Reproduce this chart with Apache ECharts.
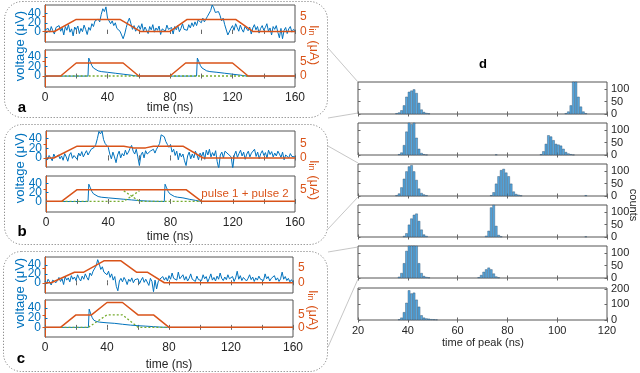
<!DOCTYPE html>
<html>
<head>
<meta charset="utf-8">
<script src="https://cdn.jsdelivr.net/npm/echarts@6.0.0/dist/echarts.min.js"></script>
<style>
  html, body { margin: 0; padding: 0; background: #fff; }
  #chart { width: 640px; height: 373px; }
</style>
</head>
<body>
<div id="chart"></div>
<script>
// ---- data ----
const sampleStepNs = 1
const timeTicks = [0, 20, 40, 60, 80, 100, 120, 140, 160]
const timeLabels = [0, 40, 80, 120, 160]
const peakTimeLabels = [20, 40, 60, 80, 100, 120]
const voltageTicks = [0, 20, 40]
const currentTicks = [0, 5]

// noisy measured voltage (uV), one sample per ns, 0..160 ns
const voltageA = [
  5, 2, 8, 0, 12, 3, -4, 10, 6, 14,
  2, 9, -6, 12, 4, 16, 0, 7, -8, 11,
  5, 13, -3, 8, 1, 15, 6, -5, 10, 4,
  18, 12, 24, 20, 28, 22, 38, 50, 44, 54,
  30, 26, 18, 24, 14, 20, 8, 12, 2, -6,
  -14, -4, 10, 22, 30, 18, 6, 14, 2, 8,
  14, 6, 18, 2, 11, 8, -3, 12, 5, 16,
  0, 9, 4, 13, -5, 7, 11, 2, 15, 6,
  3, 10, -4, 12, 5, 14, 1, 8, 18, 6,
  10, 4, 16, 9, 20, 12, 22, 14, 26, 24,
  20, 30, 22, 28, 34, 30, 46, 58, 52, 42,
  38, 44, 36, 24, 30, 16, 20, -6, -10, 8,
  14, 4, 18, 10, 2, 15, 6, 0, 12, 8,
  3, 11, -4, 9, 16, 5, 12, -2, 8, 14,
  4, 10, 18, 2, 9, -6, 12, 6, 14, 0,
  -12, 8, -14, 4, 10, -3, 7, 12, 0, 6, 3
]
const voltageB = [
  2, -4, 5, 0, -6, 8, 1, -3, 6, -2,
  4, -5, 9, 2, -7, 6, 11, -1, 5, 8,
  -3, 10, 4, 13, 2, 9, 15, 6, 12, 18,
  14, 22, 28, 40, 55, 50, 56, 38, 30, 34,
  22, 8, -2, 12, 2, -10, 6, 14, 0, 9,
  4, 16, 7, 12, 20, 26, 14, 8, 18, 2,
  -16, 6, 12, 0, 15, 8, 4, 14, 10, 18,
  10, 18, 24, 30, 48, 52, 44, 34, 28, 22,
  28, 12, 18, 5, 14, -4, 10, 2, 8, -6,
  -16, 4, 12, -2, 8, 0, 14, 6, -4, 10,
  3, 12, -3, 16, 6, 18, 2, 11, 4, 15,
  -8, -22, 6, 12, 0, 14, 18, 8, 10, 2,
  -22, 6, 14, 1, 9, 16, 4, 12, -3, 8,
  14, 2, 10, 6, 18, 3, 12, -2, 9, 15,
  5, 11, 0, 16, 7, 13, 2, 10, 4, 14,
  8, 1, 12, -4, 6, 10, 0, 9, 3, 7, 2
]
const voltageC = [
  4, -2, 8, 2, -5, 6, 10, 0, 5, 12,
  3, 9, -4, 14, 6, 11, 2, 16, 8, 13,
  5, 18, 10, 4, 15, 8, 20, 12, 6, 22,
  16, 26, 30, 38, 52, 42, 30, 36, 24, 28,
  18, 26, 12, 20, 6, 14, -8, -18, 4, 10,
  2, 12, 6, -4, 8, 3, 11, 0, 7, 5,
  9, -2, 6, 12, 1, 8, 4, -6, 10, 3,
  -20, 6, -14, 2, 8, 4, 14, 6, 12, 4,
  16, 8, 22, 10, 14, 6, 24, 9, 12, 18,
  6, 14, 4, 10, 20, 8, 12, 3, 15, 7,
  11, 5, 18, 9, 14, 2, 10, 20, 6, 12,
  4, 15, 8, 22, 10, 5, 13, 7, 18, 9,
  6, 14, 3, 11, 26, 8, 16, 5, 12, 9,
  4, 10, 18, 7, 13, 3, 11, 6, 15, 8,
  12, 5, 20, 9, 14, 4, 10, 7, 16, 6,
  11, 3, 9, 24, 8, 14, 5, 10, 2, 7, 0
]

// input current (uA) shown with the noisy traces, [time ns, current]
const currentTopA = [[0, 0], [6, 0], [20, 4], [48, 4], [61, 0], [80, 0], [91, 4], [122, 4], [133, 0], [160, 0]]
const currentTopB = [[0, 0], [5, 0], [20, 4.2], [50, 4.2], [56, 3.6], [64, 3.6], [69, 4.2], [88, 4.2], [101, 0], [160, 0]]
const currentTopC = [[0, 0], [4, 0], [19, 3.6], [25, 3.6], [38, 7.5], [49, 7.5], [59, 3.6], [66, 3.6], [77, 0], [160, 0]]

// simulated pulses: voltage (uV), total current and single-pulse current (uA)
const pulseVoltageA = [[0, 0], [27.5, 0], [28, 38], [29, 30], [30, 22], [31, 17], [32, 14], [34, 11], [36, 9.5], [40, 8], [45, 6], [50, 4], [55, 2], [58, 0.5], [60, 0],
  [97, 0], [97.5, 38], [98.5, 30], [99.5, 22], [100.5, 17], [101.5, 14], [103.5, 11], [105.5, 9.5], [110, 8], [115, 6], [120, 4], [125, 2], [128, 0.5], [130, 0], [160, 0]]
const pulseCurrentA = [[0, 0], [10, 0], [20, 4.5], [50, 4.5], [60, 0], [80, 0], [90, 4.5], [120, 4.5], [130, 0], [160, 0]]
const singleCurrentA = [[10, 0], [60, 0], [70, '-'], [80, 0], [130, 0]]

const pulseVoltageB = [[0, 0], [27, 0], [27.5, 38], [28.5, 30], [29.5, 22], [30.5, 17], [31.5, 14], [33.5, 11], [35.5, 9.5], [40, 8], [45, 6.5], [50, 5], [55, 3.5], [60, 2], [65, 1], [70, 0.5], [76, 0],
  [76.5, 38], [77.5, 30], [78.5, 22], [79.5, 17], [80.5, 14], [82.5, 11], [84.5, 9.5], [88, 8], [92, 5], [96, 2.5], [100, 0], [160, 0]]
const pulseCurrentB = [[0, 0], [10, 0], [20, 5], [90, 5], [100, 0], [160, 0]]
const singleCurrentB1 = [[10, 0], [50, 0], [60, 4.5]]
const singleCurrentB2 = [[50, 4.5], [60, 0], [100, 0]]

const pulseVoltageC = [[0, 0], [28, 0], [28.5, 38], [29.5, 28], [30.5, 20], [31.5, 15], [33, 12.5], [35, 11], [40, 9.5], [45, 8.4], [50, 6.5], [55, 4.8], [60, 3.5], [65, 2.6], [70, 1.5], [75, 0.5], [79, 0], [160, 0]]
const pulseCurrentC = [[0, 0], [10, 0], [20, 5], [30, 5], [40, 10], [50, 10], [60, 5], [70, 5], [80, 0], [160, 0]]
const singleCurrentC = [[10, 0], [28, 0], [40, 5], [50, 5], [60, 0], [80, 0]]

// histograms of time of peak: bin start (ns, 1 ns bins) and counts
const hist1Bins = [35, 36, 37, 38, 39, 40, 41, 42, 43, 44, 45, 46, 47, 48, 103, 104, 105, 106, 107, 108, 109, 110, 111]
const hist1Counts = [3, 6, 15, 35, 70, 90, 95, 100, 85, 45, 18, 8, 4, 2, 3, 10, 35, 135, 140, 70, 30, 10, 3]
const hist2Bins = [36, 37, 38, 39, 40, 41, 42, 43, 44, 45, 46, 47, 75, 93, 94, 95, 96, 97, 98, 99, 100, 101, 102, 103, 104, 105, 106]
const hist2Counts = [3, 10, 40, 95, 135, 125, 135, 70, 25, 8, 3, 1, 2, 3, 15, 45, 80, 75, 60, 45, 42, 38, 25, 12, 6, 3, 1]
const hist3Bins = [35, 36, 37, 38, 39, 40, 41, 42, 43, 44, 45, 46, 47, 73, 74, 75, 76, 77, 78, 79, 80, 81, 82, 83, 84, 85, 111]
const hist3Counts = [3, 10, 35, 70, 100, 120, 125, 100, 65, 30, 12, 6, 3, 3, 15, 50, 80, 105, 110, 95, 80, 50, 18, 8, 5, 2, 3]
const hist4Bins = [38, 39, 40, 41, 42, 43, 44, 45, 46, 47, 71, 72, 73, 74, 75, 76, 77, 111]
const hist4Counts = [4, 15, 50, 75, 90, 95, 65, 30, 10, 4, 5, 25, 120, 130, 45, 8, 2, 2]
const hist5Bins = [36, 37, 38, 39, 40, 41, 42, 43, 44, 45, 46, 47, 48, 68, 69, 70, 71, 72, 73, 74, 75, 76]
const hist5Counts = [5, 20, 60, 110, 140, 150, 145, 130, 60, 20, 8, 4, 2, 3, 12, 25, 35, 42, 35, 18, 6, 2]
const hist6Bins = [36, 37, 38, 39, 40, 41, 42, 43, 44, 45, 46, 47, 48, 49, 50, 51]
const hist6Counts = [4, 15, 50, 110, 190, 170, 175, 130, 85, 30, 15, 10, 8, 5, 4, 3]

// ---- drawing ----
const FONT = '"Liberation Sans", Arial, Helvetica, sans-serif'
const BLUE = '#0072BD'
const ORANGE = '#D95319'
const GREEN = '#77AC30'
const AXIS = '#262626'
const TICK = '#666'
const BAR = '#56A8E0'

const grid = []
const xAxis = []
const yAxis = []
const series = []

const toTrace = (vals) => vals.map((v, i) => [i * sampleStepNs, v])

function tick(values, color) {
  return { show: true, inside: true, length: 2.5, customValues: values, lineStyle: { color: color, width: 1 } }
}

function labels(values, color, size, margin, show) {
  return {
    show: show !== false, customValues: values, margin: margin, color: color,
    fontSize: size, fontFamily: FONT, hideOverlap: false,
  }
}

function addBox(box) {
  grid.push({ left: box.left, top: box.top, width: box.width, height: box.height, show: true, borderColor: '#555', borderWidth: 1 })
  return grid.length - 1
}

function addSubplot(p) {
  const gi = addBox(p)
  const xi = xAxis.length
  xAxis.push({
    type: 'value', gridIndex: gi, position: 'bottom', min: 0, max: 160,
    axisLine: { show: false }, splitLine: { show: false },
    axisTick: tick(timeTicks, TICK),
    axisLabel: labels(timeLabels, AXIS, 12, 5, !!p.showX),
  })
  xAxis.push({
    type: 'value', gridIndex: gi, position: 'top', min: 0, max: 160,
    axisLine: { show: false }, splitLine: { show: false },
    axisTick: tick(timeTicks, TICK), axisLabel: { show: false },
  })
  const yi = yAxis.length
  // outer voltage labels (0 and 40) on the main left axis
  yAxis.push({
    type: 'value', gridIndex: gi, position: 'left', min: p.vRange[0], max: p.vRange[1],
    axisLine: { show: true, lineStyle: { color: BLUE } }, splitLine: { show: false },
    axisTick: tick(voltageTicks, BLUE),
    axisLabel: labels([voltageTicks[0], voltageTicks[2]], BLUE, 12, 4),
  })
  yAxis.push({
    type: 'value', gridIndex: gi, position: 'right', min: p.iRange[0], max: p.iRange[1],
    axisLine: { show: true, lineStyle: { color: ORANGE } }, splitLine: { show: false },
    axisTick: tick(currentTicks, ORANGE),
    axisLabel: labels(currentTicks, ORANGE, 12, 5),
  })
  // middle voltage label on a twin axis so it is not culled as an overlap
  yAxis.push({
    type: 'value', gridIndex: gi, position: 'left', offset: 0, min: p.vRange[0], max: p.vRange[1],
    axisLine: { show: false }, axisTick: { show: false }, splitLine: { show: false },
    axisLabel: labels([voltageTicks[1]], BLUE, 12, 4),
  })
  const line = (data, axisIdx, color, width, dash) => ({
    type: 'line', xAxisIndex: xi, yAxisIndex: axisIdx, data: data,
    showSymbol: false, symbol: 'none', silent: true, connectNulls: false,
    lineStyle: { color: color, width: width, type: dash || 'solid' }, itemStyle: { color: color },
  })
  series.push(line(p.voltage, yi, BLUE, 1))
  ;(p.single || []).forEach((d) => series.push(line(d, yi + 1, GREEN, 1.3, [2, 2])))
  series.push(line(p.current, yi + 1, ORANGE, 1.5))
}

const L = 45
const W = 250
addSubplot({ left: L, top: 5, width: W, height: 37, vRange: [-21, 58], iRange: [-3.5, 8.8], voltage: toTrace(voltageA), current: currentTopA })
addSubplot({ left: L, top: 50, width: W, height: 37, vRange: [-23, 55], iRange: [-3.8, 9], voltage: pulseVoltageA, current: pulseCurrentA, single: [singleCurrentA], showX: true })
addSubplot({ left: L + 1, top: 131, width: W - 1, height: 36, vRange: [-19, 56], iRange: [-3.2, 9.6], voltage: toTrace(voltageB), current: currentTopB })
addSubplot({ left: L + 1, top: 176, width: W - 1, height: 36, vRange: [-23, 56], iRange: [-4.6, 10.9], voltage: pulseVoltageB, current: pulseCurrentB, single: [singleCurrentB1, singleCurrentB2], showX: true })
addSubplot({ left: L, top: 257, width: W - 2, height: 36, vRange: [-23, 58], iRange: [-3.5, 8.8], voltage: toTrace(voltageC), current: currentTopC })
addSubplot({ left: L, top: 300, width: W - 2, height: 37, vRange: [-20, 57], iRange: [-3.9, 11], voltage: pulseVoltageC, current: pulseCurrentC, single: [singleCurrentC], showX: true })

function addHist(h) {
  const gi = addBox(h)
  const xi = xAxis.length
  const xBase = {
    type: 'value', gridIndex: gi, min: 20, max: 120,
    axisLine: { show: false }, splitLine: { show: false },
    axisTick: tick(peakTimeLabels, TICK),
  }
  xAxis.push(Object.assign({}, xBase, {
    position: 'bottom',
    axisLabel: labels(peakTimeLabels, AXIS, 11, 5, !!h.showX),
  }))
  xAxis.push(Object.assign({}, xBase, { position: 'top', axisLabel: { show: false } }))
  const yi = yAxis.length
  const yBase = {
    type: 'value', gridIndex: gi, min: 0, max: h.max,
    axisLine: { show: false }, splitLine: { show: false },
    axisTick: tick(h.ticks, TICK),
  }
  yAxis.push(Object.assign({}, yBase, {
    position: 'right',
    axisLabel: labels(h.ticks, AXIS, 11, 4),
  }))
  yAxis.push(Object.assign({}, yBase, { position: 'left', axisLabel: { show: false } }))
  series.push({
    type: 'bar', xAxisIndex: xi, yAxisIndex: yi, silent: true, clip: true,
    barWidth: h.width / 100,
    data: h.bins.map((b, i) => [b + 0.5, h.counts[i]]),
    itemStyle: { color: BAR, borderColor: '#2a4a66', borderWidth: 0.4 },
  })
}

const HL = 358
const HW = 249
const histTops = [82, 123, 164, 205, 246, 288]
const histData = [
  [hist1Bins, hist1Counts], [hist2Bins, hist2Counts], [hist3Bins, hist3Counts],
  [hist4Bins, hist4Counts], [hist5Bins, hist5Counts], [hist6Bins, hist6Counts],
]
histData.forEach((d, i) => {
  const last = i === histData.length - 1
  addHist({
    left: HL, top: histTops[i], width: HW, height: 32,
    bins: d[0], counts: d[1],
    max: last ? 205 : 130, ticks: last ? [0, 100, 200] : [0, 50, 100],
    showX: last,
  })
})

// ---- annotations ----
function text(x, y, str, opts) {
  opts = opts || {}
  return {
    type: 'text', x: x, y: y, rotation: opts.rotation || 0, silent: true, z: 50,
    style: Object.assign({
      text: str, fill: opts.color || AXIS,
      font: (opts.weight || 'normal') + ' ' + (opts.size || 12) + 'px ' + FONT,
      align: 'center', verticalAlign: 'middle', textAlign: 'center', textVerticalAlign: 'middle',
    }, opts.style || {}),
  }
}

function currentLabel(x, y) {
  return text(x, y, '{a|I}{b|in}{a| (μA)}', {
    rotation: -Math.PI / 2,
    style: {
      rich: {
        a: { fontSize: 13, fontFamily: FONT, fill: ORANGE, color: ORANGE },
        b: { fontSize: 9, fontFamily: FONT, fill: ORANGE, color: ORANGE, verticalAlign: 'bottom', padding: [6, 1, 0, 0] },
      },
    },
  })
}

function panelBox(x, y, w, h) {
  return {
    type: 'rect', silent: true, z: 1,
    shape: { x: x, y: y, width: w, height: h, r: 18 },
    style: { fill: 'none', stroke: '#6e6e6e', lineWidth: 1, lineDash: [1, 2] },
  }
}

function connector(x1, y1, x2, y2) {
  return {
    type: 'line', silent: true, z: 1,
    shape: { x1: x1, y1: y1, x2: x2, y2: y2 },
    style: { stroke: '#b8b8b8', lineWidth: 0.8 },
  }
}

const graphic = [
  panelBox(4.5, 1.5, 323, 116),
  panelBox(4.5, 124.5, 323, 120),
  panelBox(3.5, 251.5, 324, 120),
  connector(328, 48, 358, 82),
  connector(328, 118, 358, 113),
  connector(328, 146, 358, 163),
  connector(328, 229, 358, 197),
  connector(328, 252, 358, 247),
  connector(328, 347, 358, 279),
  text(20, 46, 'voltage (μV)', { rotation: Math.PI / 2, color: BLUE, size: 13 }),
  text(20, 168, 'voltage (μV)', { rotation: Math.PI / 2, color: BLUE, size: 13 }),
  text(20, 293, 'voltage (μV)', { rotation: Math.PI / 2, color: BLUE, size: 13 }),
  currentLabel(314, 45),
  currentLabel(314, 180),
  currentLabel(313, 310),
  text(170, 108, 'time (ns)'),
  text(170, 237, 'time (ns)'),
  text(169, 365, 'time (ns)'),
  text(22, 108, 'a', { weight: 'bold', size: 15, color: '#000' }),
  text(22, 232, 'b', { weight: 'bold', size: 15, color: '#000' }),
  text(21, 359, 'c', { weight: 'bold', size: 15, color: '#000' }),
  text(245, 194, 'pulse 1 + pulse 2', { color: ORANGE, size: 11.5 }),
  text(483, 64, 'd', { weight: 'bold', size: 13, color: '#000' }),
  text(483, 343, 'time of peak (ns)', { size: 11 }),
  text(633, 205, 'counts', { rotation: -Math.PI / 2, size: 11 }),
]

const chart = echarts.init(document.getElementById('chart'), null, { renderer: 'canvas' })
chart.setOption({
  animation: false,
  backgroundColor: '#fff',
  textStyle: { fontFamily: FONT },
  grid: grid,
  xAxis: xAxis,
  yAxis: yAxis,
  series: series,
  graphic: graphic,
})
</script>
</body>
</html>
